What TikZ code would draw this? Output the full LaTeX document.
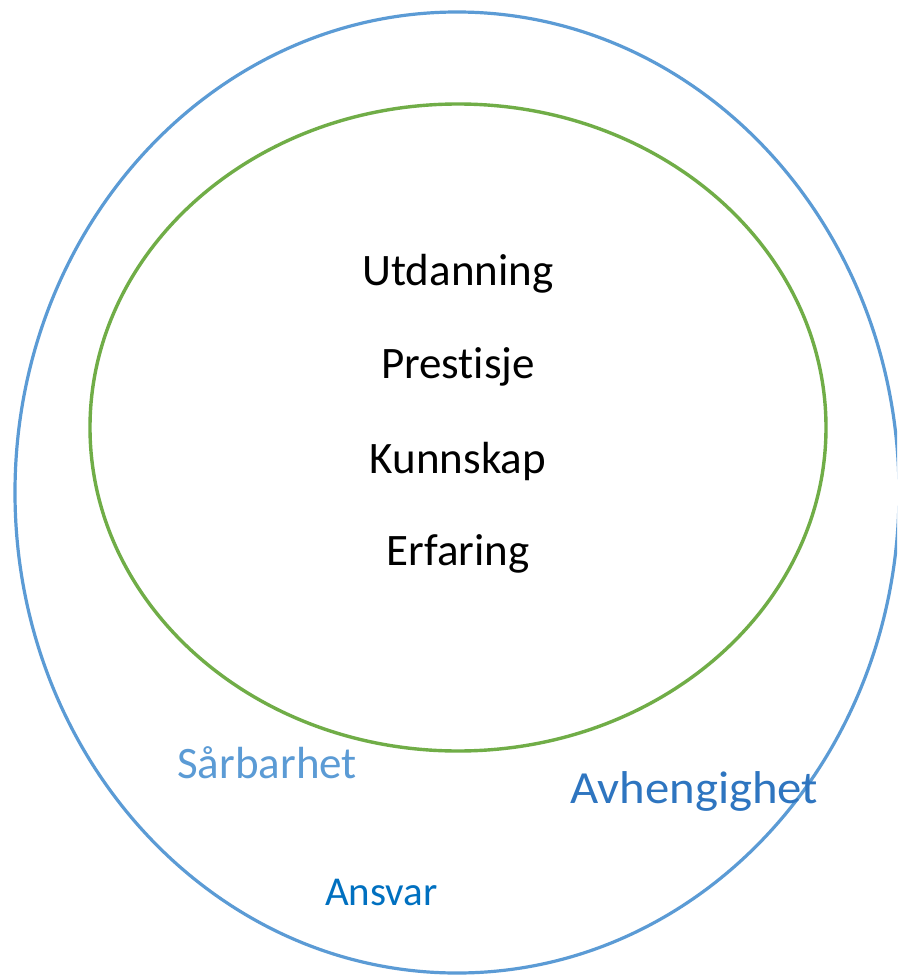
\documentclass[tikz,border=0pt]{standalone}
\usepackage{fontspec}
\setmainfont[Ligatures={NoCommon}]{Carlito}
\definecolor{outerblue}{HTML}{5B9BD5}
\definecolor{innergreen}{HTML}{70AD47}
\definecolor{lblblue}{HTML}{5B9BD5}
\definecolor{darkblue}{HTML}{0070C0}
\definecolor{midblue}{HTML}{2E75C0}
\begin{document}
\begin{tikzpicture}[x=1pt,y=-1pt,
  word/.style={inner sep=0pt,anchor=base,font=\fontsize{45}{54}\selectfont},
  side/.style={inner sep=0pt,anchor=base west,font=\fontsize{45}{54}\selectfont}]
\useasboundingbox (0,0) rectangle (897,976);
\clip (0,0) rectangle (897,976);
\fill[white] (0,0) rectangle (897,976);
\draw[outerblue,line width=3.2pt] (457,492.5) ellipse [x radius=442pt, y radius=480.5pt];
\draw[innergreen,line width=3.4pt] (458,427.5) ellipse [x radius=368pt, y radius=323.5pt];
\node[word] (utd) at (458,285) {Utdanning};
\node[word] (pre) at (458,378) {Prest\kern0pt isje};
\node[word] (kun) at (458,473) {Kunnskap};
\node[word] (erf) at (458,565) {Erfaring};
\node[side,text=lblblue] (sar) at (177,778) {Sårbarhet};
\node[side,text=darkblue,font=\fontsize{41}{50}\selectfont] (ans) at (325,905) {Ansvar};
\node[side,text=midblue,font=\fontsize{46}{55}\selectfont,xscale=1.06] (avh) at (570,803) {Avhengighet};
\end{tikzpicture}
\end{document}
